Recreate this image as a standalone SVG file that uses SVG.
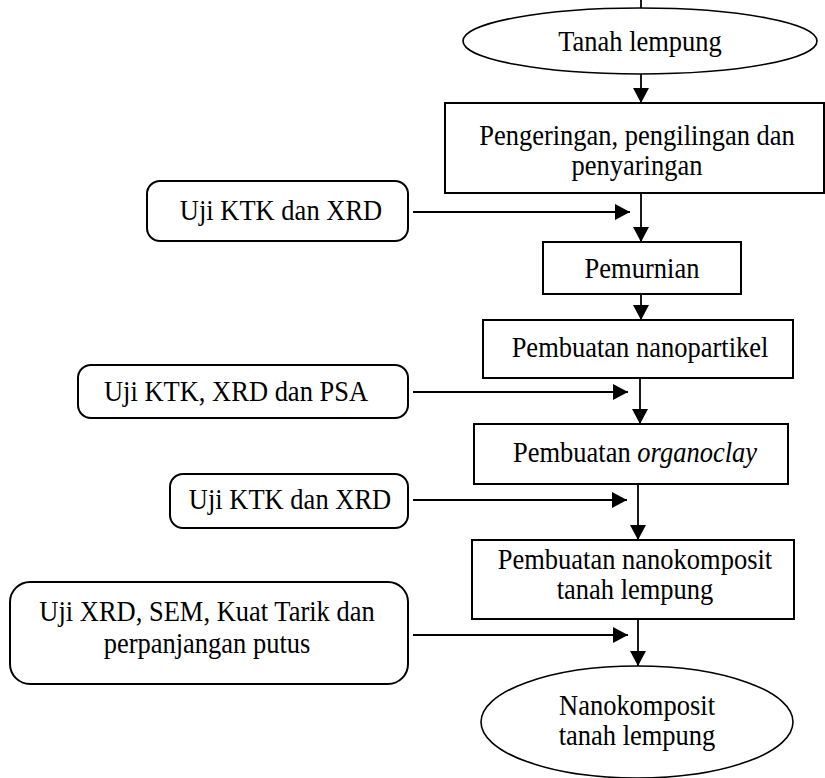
<svg xmlns="http://www.w3.org/2000/svg" width="825" height="778" viewBox="0 0 825 778">
<style>
.s{fill:#fff;stroke:#000;stroke-width:2}
.e{fill:#fff;stroke:#000;stroke-width:1.6}
.c{fill:none;stroke:#000;stroke-width:1.8}
text{font-family:"Liberation Serif","Times New Roman",serif;font-size:26.5px;fill:#000;text-anchor:middle}
</style>
<defs>
<marker id="ah" markerUnits="userSpaceOnUse" markerWidth="15" markerHeight="16" refX="15" refY="8" orient="auto">
<path d="M0,0 L15,8 L0,16 z" fill="#000"/>
</marker>
</defs>
<rect width="825" height="778" fill="#fff"/>
<g id="connectors">
<line class="c" x1="641" y1="0" x2="641" y2="8"/>
<line class="c" x1="641" y1="74" x2="641" y2="103" marker-end="url(#ah)"/>
<line class="c" x1="641" y1="193" x2="641" y2="242" marker-end="url(#ah)"/>
<line class="c" x1="413" y1="212" x2="630" y2="212" marker-end="url(#ah)"/>
<line class="c" x1="641" y1="294" x2="641" y2="320" marker-end="url(#ah)"/>
<line class="c" x1="640" y1="378" x2="640" y2="424" marker-end="url(#ah)"/>
<line class="c" x1="413" y1="392" x2="628" y2="392" marker-end="url(#ah)"/>
<line class="c" x1="638" y1="484" x2="638" y2="540" marker-end="url(#ah)"/>
<line class="c" x1="413" y1="500" x2="627" y2="500" marker-end="url(#ah)"/>
<line class="c" x1="638" y1="619" x2="638" y2="666" marker-end="url(#ah)"/>
<line class="c" x1="413" y1="635" x2="628" y2="635" marker-end="url(#ah)"/>
</g>
<g id="n-tanah">
<ellipse class="e" cx="640" cy="41" rx="177" ry="33"/>
<text transform="translate(640,51) scale(1,1.12)">Tanah lempung</text>
</g>
<g id="n-pengeringan">
<rect class="s" x="445" y="103" width="379" height="90"/>
<text transform="translate(637,145) scale(1,1.12)">Pengeringan, pengilingan dan</text>
<text transform="translate(637,175) scale(1,1.12)">penyaringan</text>
</g>
<g id="n-uji1">
<rect class="s" x="147" y="181" width="261" height="60" rx="13"/>
<text transform="translate(281,220) scale(1,1.12)">Uji KTK dan XRD</text>
</g>
<g id="n-pemurnian">
<rect class="s" x="543" y="242" width="198" height="52"/>
<text transform="translate(642,278) scale(1,1.12)">Pemurnian</text>
</g>
<g id="n-nanopartikel">
<rect class="s" x="483" y="320" width="310" height="58"/>
<text transform="translate(640,357) scale(1,1.12)">Pembuatan nanopartikel</text>
</g>
<g id="n-uji2">
<rect class="s" x="78" y="365" width="330" height="53" rx="13"/>
<text transform="translate(236,401) scale(1,1.12)">Uji KTK, XRD dan PSA</text>
</g>
<g id="n-organoclay">
<rect class="s" x="474" y="424" width="314" height="60"/>
<text transform="translate(635,462) scale(1,1.12)">Pembuatan <tspan font-style="italic">organoclay</tspan></text>
</g>
<g id="n-uji3">
<rect class="s" x="170" y="474" width="238" height="54" rx="13"/>
<text transform="translate(290,509) scale(1,1.12)">Uji KTK dan XRD</text>
</g>
<g id="n-nanokomposit">
<rect class="s" x="472" y="540" width="322" height="79"/>
<text transform="translate(635,569) scale(1,1.12)">Pembuatan nanokomposit</text>
<text transform="translate(635,599) scale(1,1.12)">tanah lempung</text>
</g>
<g id="n-uji4">
<rect class="s" x="10" y="582" width="398" height="102" rx="20"/>
<text transform="translate(207,621) scale(1,1.12)">Uji XRD, SEM, Kuat Tarik dan</text>
<text transform="translate(207,653) scale(1,1.12)">perpanjangan putus</text>
</g>
<g id="n-hasil">
<ellipse class="e" cx="637" cy="722" rx="156" ry="56"/>
<text transform="translate(637,715) scale(1,1.12)">Nanokomposit</text>
<text transform="translate(637,745) scale(1,1.12)">tanah lempung</text>
</g>
</svg>
